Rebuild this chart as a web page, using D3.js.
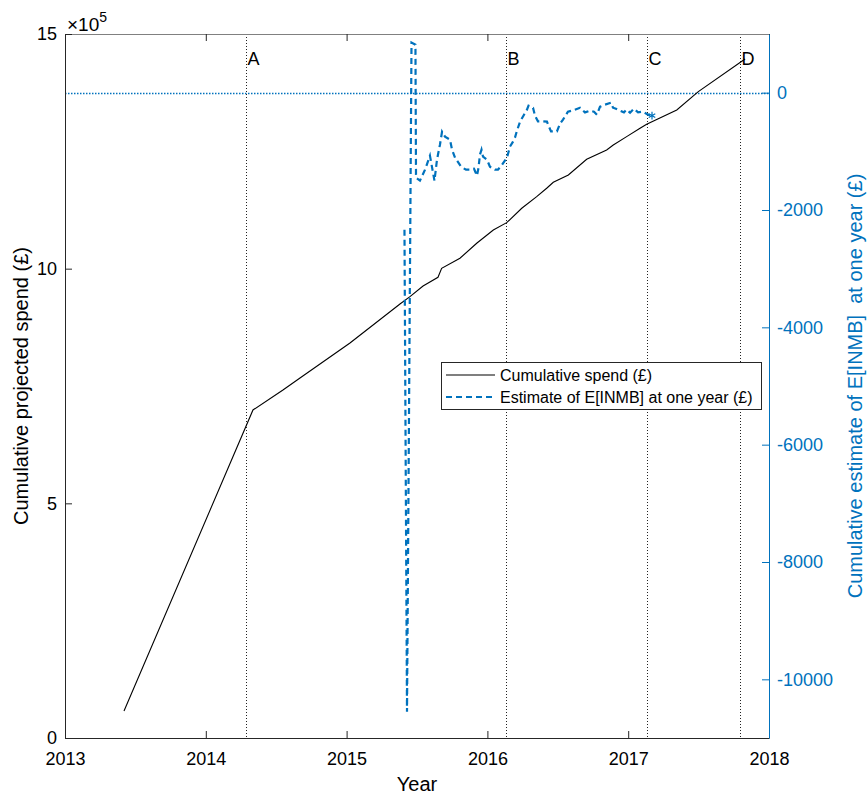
<!DOCTYPE html>
<html>
<head>
<meta charset="utf-8">
<script src="https://cdn.jsdelivr.net/npm/d3@7/dist/d3.min.js"></script>
<style>
  html, body { margin: 0; padding: 0; background: #fff; }
  svg { display: block; font-family: "Liberation Sans", Arial, Helvetica, sans-serif; }
</style>
</head>
<body>
<svg id="chart" width="868" height="796"></svg>
<script>
// ---------- data ----------
const yearTicks = [2013, 2014, 2015, 2016, 2017, 2018];
const spendTicks = [0, 500000, 1000000, 1500000];
const inmbTicks = [0, -2000, -4000, -6000, -8000, -10000];

const eventLabels = ["A", "B", "C", "D"];
const eventDates = [2014.287, 2016.135, 2017.131, 2017.794];

const spendDates = [2013.419, 2014.335, 2014.548, 2014.669, 2015.024, 2015.379, 2015.450, 2015.543,
  2015.649, 2015.675, 2015.805, 2015.924, 2016.042, 2016.137, 2016.244, 2016.350, 2016.421,
  2016.468, 2016.575, 2016.705, 2016.847, 2016.894, 2016.989, 2017.084, 2017.131, 2017.345,
  2017.498, 2017.830];
const spendValues = [57500, 698900, 741500, 767100, 841700, 924800, 940300, 963100,
  981700, 1000800, 1022200, 1054100, 1082500, 1098000, 1128700, 1153400, 1171300,
  1184100, 1199600, 1233100, 1252900, 1263600, 1281300, 1299200, 1307700, 1338200,
  1377200, 1446800];

const inmbDates = [2015.411, 2015.429, 2015.461, 2015.489, 2015.493, 2015.521, 2015.557, 2015.592,
  2015.624, 2015.642, 2015.663, 2015.678, 2015.699, 2015.734, 2015.749, 2015.770, 2015.813,
  2015.848, 2015.876, 2015.905, 2015.926, 2015.937, 2015.947, 2015.958, 2015.969, 2015.997,
  2016.018, 2016.054, 2016.075, 2016.104, 2016.139, 2016.160, 2016.182, 2016.196, 2016.210,
  2016.232, 2016.260, 2016.281, 2016.292, 2016.324, 2016.338, 2016.359, 2016.395, 2016.423,
  2016.434, 2016.452, 2016.494, 2016.516, 2016.537, 2016.572, 2016.608, 2016.658, 2016.693,
  2016.729, 2016.757, 2016.778, 2016.800, 2016.835, 2016.878, 2016.892, 2016.913, 2016.942,
  2016.970, 2016.988, 2017.013, 2017.041, 2017.070, 2017.105, 2017.141, 2017.169];
const inmbValues = [-2336, -10554, 853, 818, -1449, -1500, -1313, -1074,
  -1500, -1142, -887, -665, -750, -801, -972, -1108, -1262,
  -1313, -1313, -1296, -1415, -1279, -1057, -972, -1091, -1142,
  -1262, -1313, -1313, -1228, -1108, -921, -835, -767, -648,
  -494, -375, -290, -222, -256, -392, -489, -489, -494,
  -563, -660, -660, -529, -460, -324, -302, -256, -336,
  -307, -324, -375, -239, -205, -171, -256, -273, -307,
  -336, -290, -341, -273, -336, -324, -375, -392];

const legendLabels = ["Cumulative spend (£)", "Estimate of E[INMB] at one year (£)"];

// ---------- layout ----------
const L = 65, R = 769, T = 34, B = 738;
const axisColor = "#262626";
const blue = "#0072BD";

const svg = d3.select("#chart");
const x = d3.scaleLinear().domain([2013, 2018]).range([L, R]);
const yL = d3.scaleLinear().domain([0, 1500000]).range([B, T]);
const yR = d3.scaleLinear().domain([-11000, 1000]).range([B, T]);

// horizontal dotted zero line (right axis)
svg.append("line")
  .attr("x1", L).attr("x2", R)
  .attr("y1", Math.round(yR(0)) + 0.5).attr("y2", Math.round(yR(0)) + 0.5)
  .attr("stroke", blue).attr("stroke-width", 1.3)
  .attr("stroke-dasharray", "1.5,1.5");

// vertical event lines
eventDates.forEach((d, i) => {
  const xp = Math.round(x(d)) + 0.5;
  svg.append("line")
    .attr("x1", xp).attr("x2", xp).attr("y1", T).attr("y2", B)
    .attr("stroke", "#222").attr("stroke-width", 1)
    .attr("stroke-dasharray", "1,2");
  svg.append("text")
    .attr("x", xp + 1).attr("y", 65)
    .attr("font-size", 18).attr("fill", "#000")
    .text(eventLabels[i]);
});

// spend line
const spendData = spendDates.map((d, i) => [d, spendValues[i]]);
svg.append("path")
  .datum(spendData)
  .attr("fill", "none").attr("stroke", "#000").attr("stroke-width", 1.1)
  .attr("d", d3.line().x(d => x(d[0])).y(d => yL(d[1])));

// INMB line
const inmbData = inmbDates.map((d, i) => [d, inmbValues[i]]);
svg.append("path")
  .datum(inmbData)
  .attr("fill", "none").attr("stroke", blue).attr("stroke-width", 2.2)
  .attr("stroke-dasharray", "6,4")
  .attr("d", d3.line().x(d => x(d[0])).y(d => yR(d[1])));

// end marker (asterisk)
const last = inmbData[inmbData.length - 1];
svg.append("path")
  .attr("transform", `translate(${x(last[0])},${yR(last[1])})`)
  .attr("d", d3.symbol(d3.symbolAsterisk, 40)())
  .attr("fill", "none").attr("stroke", blue).attr("stroke-width", 1.2);

// ---------- axes ----------
const gB = svg.append("g").attr("transform", `translate(0,${B})`)
  .call(d3.axisBottom(x).tickValues(yearTicks).tickFormat(d3.format("d"))
    .tickSizeInner(-7).tickSizeOuter(0).tickPadding(14));
const gT = svg.append("g").attr("transform", `translate(0,${T})`)
  .call(d3.axisTop(x).tickValues(yearTicks).tickFormat("")
    .tickSizeInner(-7).tickSizeOuter(0));
const gL = svg.append("g").attr("transform", `translate(${L},0)`)
  .call(d3.axisLeft(yL).tickValues(spendTicks).tickFormat(d => d / 100000)
    .tickSizeInner(-7).tickSizeOuter(0).tickPadding(8));
const gR = svg.append("g").attr("transform", `translate(${R},0)`)
  .call(d3.axisRight(yR).tickValues(inmbTicks).tickFormat(d => String(d))
    .tickSizeInner(-7).tickSizeOuter(0).tickPadding(8));

[gB, gT, gL].forEach(g => {
  g.selectAll("path, line").attr("stroke", axisColor).attr("stroke-width", 1);
  g.selectAll("text").attr("fill", "#000").attr("font-size", 18)
    .attr("font-family", "Liberation Sans, Arial, sans-serif");
});
gT.select("path.domain").attr("stroke", "#808080");
gR.selectAll("path, line").attr("stroke", blue).attr("stroke-width", 1);
gR.selectAll("text").attr("fill", blue).attr("font-size", 18)
  .attr("font-family", "Liberation Sans, Arial, sans-serif");

// exponent label
const ex = svg.append("text").attr("x", 67).attr("y", 31).attr("font-size", 19).attr("fill", "#000");
ex.append("tspan").text("×10");
ex.append("tspan").attr("dy", -9).attr("font-size", 14).text("5");

// axis titles
svg.append("text")
  .attr("x", 417).attr("y", 791)
  .attr("text-anchor", "middle").attr("font-size", 20).attr("fill", "#000")
  .text("Year");
svg.append("text")
  .attr("transform", `translate(28,${(T + B) / 2}) rotate(-90)`)
  .attr("text-anchor", "middle").attr("font-size", 20).attr("fill", "#000")
  .text("Cumulative projected spend (£)");
svg.append("text")
  .attr("transform", `translate(862,${(T + B) / 2}) rotate(-90)`)
  .attr("text-anchor", "middle").attr("font-size", 20).attr("fill", blue)
  .attr("xml:space", "preserve").style("white-space", "pre")
  .text("Cumulative estimate of E[INMB]  at one year (£)");

// ---------- legend ----------
const lg = svg.append("g");
lg.append("rect").attr("x", 441.5).attr("y", 362.5).attr("width", 320).attr("height", 47)
  .attr("fill", "#fff").attr("stroke", axisColor).attr("stroke-width", 1);
const legendRows = [375, 397];
lg.append("line").attr("x1", 446).attr("x2", 495).attr("y1", legendRows[0]).attr("y2", legendRows[0])
  .attr("stroke", "#000").attr("stroke-width", 1.1);
lg.append("line").attr("x1", 446).attr("x2", 495).attr("y1", legendRows[1]).attr("y2", legendRows[1])
  .attr("stroke", blue).attr("stroke-width", 2.2).attr("stroke-dasharray", "6,4");
legendLabels.forEach((t, i) => {
  lg.append("text").attr("x", 500).attr("y", legendRows[i] + 6)
    .attr("font-size", 16).attr("fill", "#000").text(t);
});
</script>
</body>
</html>
